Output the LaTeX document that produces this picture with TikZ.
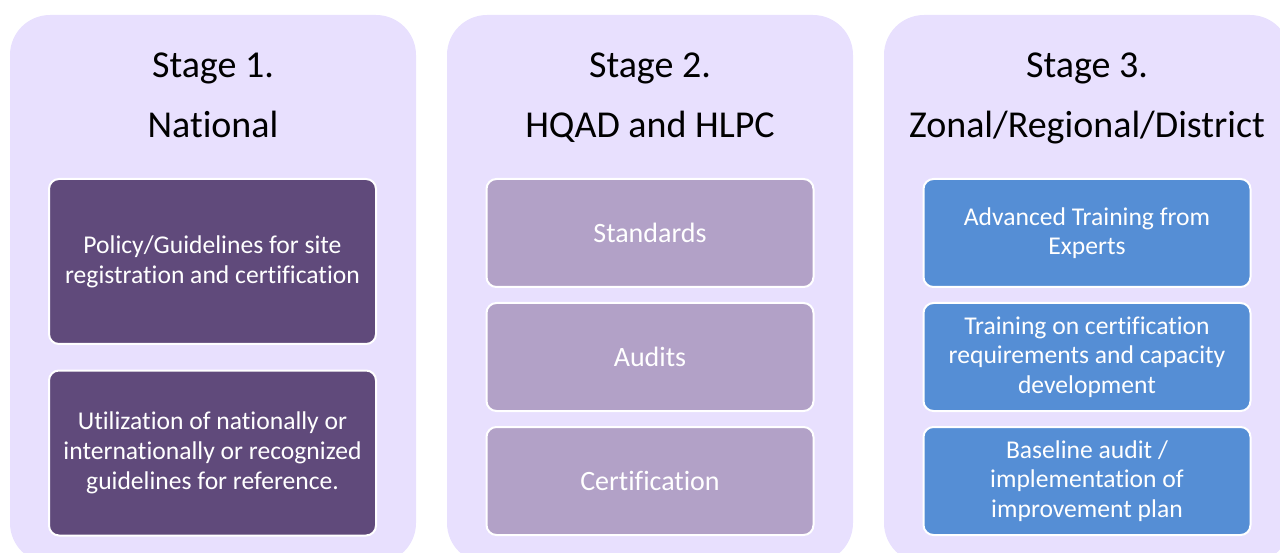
\documentclass[tikz,border=0pt]{standalone}
\usepackage{fontspec}
\setmainfont[Ligatures={NoCommon}]{Carlito}
\definecolor{panelbg}{HTML}{E8E0FE}
\definecolor{darkpurple}{HTML}{604A7B}
\definecolor{lightpurple}{HTML}{B2A1C7}
\definecolor{midblue}{HTML}{558ED5}
\tikzset{
  panel/.style={rectangle, fill=panelbg, draw=none, rounded corners=40pt, minimum width=406pt, minimum height=548pt, inner sep=0pt},
  title/.style={anchor=base, font=\fontsize{38}{46}\selectfont, text=black, inner sep=0pt},
  itembox/.style={rectangle, draw=white, line width=2pt, rounded corners=10pt, minimum width=327pt, text=white, align=center, inner sep=0pt},
  tallbox/.style={itembox, fill=darkpurple, minimum height=165pt, font=\fontsize{25.6}{30}\selectfont},
  midbox/.style={itembox, fill=lightpurple, minimum height=108pt, font=\fontsize{28}{33}\selectfont},
  bluebox/.style={itembox, fill=midblue, minimum height=108pt, font=\fontsize{25.6}{29.5}\selectfont}
}
\begin{document}
\begin{tikzpicture}[x=1pt,y=-1pt]
\useasboundingbox (0,0) rectangle (1280,553);
\clip (0,0) rectangle (1280,553);
% panels
\node[panel] (p1) at (213,289) {};
\node[panel] (p2) at (650,289) {};
\node[panel] (p3) at (1087,289) {};
% titles
\node[title] (t1a) at (213,78) {Stage 1.};
\node[title] (t1b) at (213,138) {National};
\node[title] (t2a) at (650,78) {Stage 2.};
\node[title] (t2b) at (650,138) {HQAD and HLPC};
\node[title] (t3a) at (1087,78) {Stage 3.};
\node[title] (t3b) at (1087,138) {Zonal/Regional/District};
% stage 1 boxes
\node[tallbox] (a1) at (212.5,261.5) {Policy/Guidelines for site\\registration and certification};
\node[tallbox] (a2) at (212.5,453) {Utilization of nationally or\\internationally or recognized\\guidelines for reference.};
% stage 2 boxes
\node[midbox] (b1) at (650,233) {Standards};
\node[midbox] (b2) at (650,357) {Audits};
\node[midbox] (b3) at (650,481) {Certification};
% stage 3 boxes
\node[bluebox] (c1) at (1087,233) {Advanced Training from\\Experts};
\node[bluebox] (c2) at (1087,357) {Training on certification\\requirements and capacity\\development};
\node[bluebox] (c3) at (1087,481) {Baseline audit /\\implementation of\\improvement plan};
\end{tikzpicture}
\end{document}
